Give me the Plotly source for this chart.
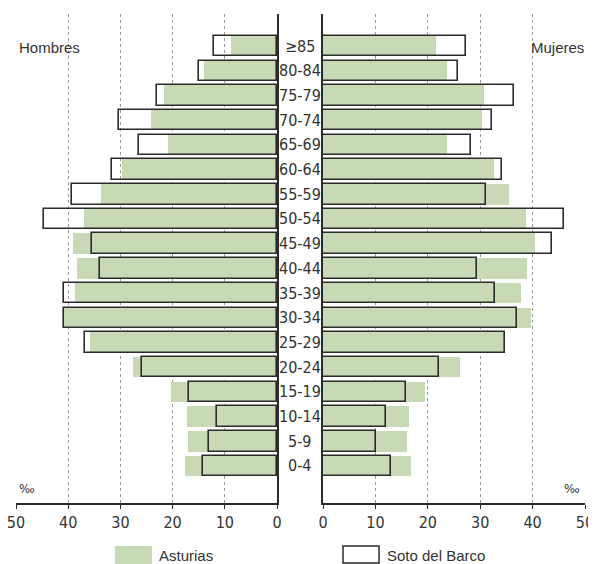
import plotly.graph_objects as go

# %% Data (‰ of population by age group)
age_groups = ["0-4", "5-9", "10-14", "15-19", "20-24", "25-29", "30-34", "35-39",
              "40-44", "45-49", "50-54", "55-59", "60-64", "65-69", "70-74",
              "75-79", "80-84", "≥85"]

asturias_hombres = [17.6, 17.0, 17.2, 20.3, 27.6, 35.8, 40.8, 38.7, 38.3, 39.1,
                    37.0, 33.7, 29.7, 20.9, 24.1, 21.6, 14.0, 8.8]
soto_hombres     = [14.2, 13.0, 11.4, 16.8, 25.8, 36.7, 40.9, 40.9, 33.9, 35.4,
                    44.7, 39.3, 31.7, 26.5, 30.3, 22.9, 14.9, 12.1]
asturias_mujeres = [16.8, 16.0, 16.4, 19.5, 26.1, 34.6, 39.7, 37.8, 38.9, 40.5,
                    38.7, 35.5, 32.6, 23.7, 30.3, 30.7, 23.7, 21.6]
soto_mujeres     = [13.0, 10.2, 12.0, 15.9, 22.2, 34.8, 37.0, 32.8, 29.3, 43.7,
                    45.9, 31.1, 34.1, 28.2, 32.2, 36.5, 25.8, 27.2]

x_ticks = [0, 10, 20, 30, 40, 50]

GREEN = "#c8d9b6"
DARK = "#2b2b2b"
TXT = "#333333"
NUM_FONT = "Liberation Sans Narrow, DejaVu Sans Condensed, Arial Narrow, sans-serif"
TXT_FONT = "Liberation Sans, Arial, sans-serif"

W, H = 588, 556
OFF = 8  # page body margin
def px(x): return (x - OFF) / W
def py(y): return 1 - (y - OFF) / H

fig = go.Figure()

# Hombres (left panel)
fig.add_trace(go.Bar(y=age_groups, x=asturias_hombres, orientation="h",
                     marker=dict(color=GREEN, line=dict(width=0)),
                     width=0.83, xaxis="x", yaxis="y", name="Asturias",
                     showlegend=False))
fig.add_trace(go.Bar(y=age_groups, x=soto_hombres, orientation="h",
                     marker=dict(color="rgba(0,0,0,0)", line=dict(color=DARK, width=1.6)),
                     width=0.83, xaxis="x", yaxis="y", name="Soto del Barco",
                     showlegend=False))
# Mujeres (right panel)
fig.add_trace(go.Bar(y=age_groups, x=asturias_mujeres, orientation="h",
                     marker=dict(color=GREEN, line=dict(width=0)),
                     width=0.83, xaxis="x2", yaxis="y2", name="Asturias",
                     showlegend=False))
fig.add_trace(go.Bar(y=age_groups, x=soto_mujeres, orientation="h",
                     marker=dict(color="rgba(0,0,0,0)", line=dict(color=DARK, width=1.6)),
                     width=0.83, xaxis="x2", yaxis="y2", name="Soto del Barco",
                     showlegend=False))

n = len(age_groups)
y_range = [-1.50, n - 1 + 1.30]
xaxis_common = dict(tickvals=x_ticks, showgrid=True, gridcolor="#9a9a9a",
                    griddash="dot", gridwidth=1, zeroline=False, showline=True,
                    linecolor=DARK, linewidth=1.5, ticks="outside", ticklen=4,
                    tickcolor=DARK, tickfont=dict(family=NUM_FONT, size=16, color=TXT),
                    ticklabeloverflow="allow", automargin=False, fixedrange=True)
yaxis_common = dict(range=y_range, showgrid=False, zeroline=False, showline=True,
                    linecolor=DARK, linewidth=1.5, showticklabels=False, ticks="",
                    automargin=False, domain=[py(503), py(14)])

fig.update_layout(
    width=W, height=H, margin=dict(l=0, r=0, t=0, b=0),
    paper_bgcolor="white", plot_bgcolor="white",
    barmode="overlay", bargap=0,
    xaxis=dict(domain=[px(16), px(277)], range=[50, 0], anchor="y", **xaxis_common),
    xaxis2=dict(domain=[px(323), px(585)], range=[0, 50], anchor="y2", **xaxis_common),
    yaxis=dict(anchor="x", side="right", **yaxis_common),
    yaxis2=dict(anchor="x2", side="left", **yaxis_common),
)

# age labels in the middle
for g in age_groups:
    fig.add_annotation(x=px(300), xref="paper", y=g, yref="y", text=g,
                       showarrow=False, xanchor="center", yanchor="middle",
                       font=dict(family=NUM_FONT, size=16, color=TXT))

fig.add_annotation(x=px(17), y=py(47), xref="paper", yref="paper", text="Hombres",
                   showarrow=False, xanchor="left", yanchor="middle",
                   font=dict(family=TXT_FONT, size=15, color=TXT))
fig.add_annotation(x=px(586), y=py(47), xref="paper", yref="paper", text="Mujeres",
                   showarrow=False, xanchor="right", yanchor="middle",
                   font=dict(family=TXT_FONT, size=15, color=TXT))
fig.add_annotation(x=px(17), y=py(488), xref="paper", yref="paper", text="‰",
                   showarrow=False, xanchor="left", yanchor="middle",
                   font=dict(family=NUM_FONT, size=13, color=TXT))
fig.add_annotation(x=px(582), y=py(488), xref="paper", yref="paper", text="‰",
                   showarrow=False, xanchor="right", yanchor="middle",
                   font=dict(family=NUM_FONT, size=13, color=TXT))

# legend
fig.add_shape(type="rect", xref="paper", yref="paper",
              x0=px(115), x1=px(152), y0=py(564), y1=py(546),
              fillcolor=GREEN, line=dict(width=0))
fig.add_annotation(x=px(157), y=py(555), xref="paper", yref="paper", text="Asturias",
                   showarrow=False, xanchor="left", yanchor="middle",
                   font=dict(family=TXT_FONT, size=15, color=TXT))
fig.add_shape(type="rect", xref="paper", yref="paper",
              x0=px(343), x1=px(379), y0=py(563), y1=py(546),
              fillcolor="white", line=dict(color=DARK, width=1.5))
fig.add_annotation(x=px(385), y=py(555), xref="paper", yref="paper", text="Soto del Barco",
                   showarrow=False, xanchor="left", yanchor="middle",
                   font=dict(family=TXT_FONT, size=15, color=TXT))

fig.write_html("out.html")
